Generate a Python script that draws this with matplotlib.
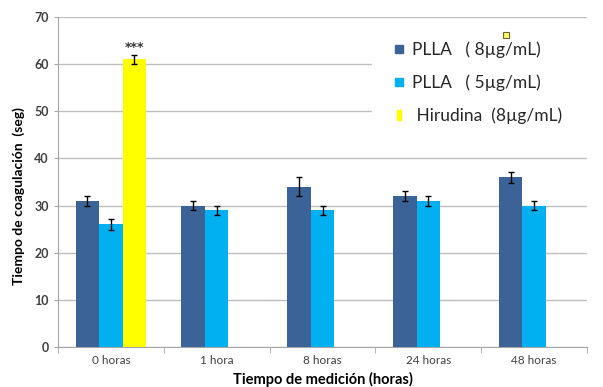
import matplotlib.pyplot as plt
import numpy as np
from matplotlib.lines import Line2D
from matplotlib.patches import Rectangle

plt.rcParams['font.family'] = ['Lato', 'DejaVu Sans']

# coagulation times (seg) per measurement time
categories = ['0 horas', '1 hora', '8 horas', '24 horas', '48 horas']
plla_8 = [31, 30, 34, 32, 36]
plla_8_err = [1, 1, 2, 1, 1.2]
plla_5 = [26, 29, 29, 31, 30]
plla_5_err = [1.2, 1, 1, 1, 1]
hirudina = [61, 0, 0, 0, 0]
hirudina_err = [1, 0, 0, 0, 0]
series_names = ['PLLA   ( 8\u00b5g/mL)', 'PLLA   ( 5\u00b5g/mL)', ' Hirudina  (8\u00b5g/mL)']
colors = ['#3B6397', '#00B0F0', '#FFFF00']

fig = plt.figure(figsize=(6.03, 3.87), dpi=100)
ax = fig.add_axes([0.0962, 0.1034, 0.8773, 0.8527])

x = np.arange(len(categories))
w = 0.222
ekw = dict(ecolor='black', elinewidth=1, capsize=2.5, capthick=1)
ax.bar(x - w, plla_8, w, color=colors[0], yerr=plla_8_err, error_kw=ekw, zorder=3)
ax.bar(x, plla_5, w, color=colors[1], yerr=plla_5_err, error_kw=ekw, zorder=3)
# hirudina only measured at 0 horas
ax.bar(x[:1] + w, hirudina[:1], w, color=colors[2], yerr=hirudina_err[:1], error_kw=ekw, zorder=3)
ax.text(x[0] + w, hirudina[0] + hirudina_err[0] + 0.2, '***', ha='center', va='bottom',
        fontsize=9, fontweight='bold', color='#333333', family='DejaVu Sans')

ax.set_xlim(-0.5, len(categories) - 0.5)
ax.set_ylim(0, 70)
ax.set_yticks(np.arange(0, 71, 10))
ax.set_xticks(x)
ax.set_xticklabels(categories)
ax.set_xticks(np.arange(-0.5, len(categories)), minor=True)
ax.tick_params(axis='x', which='major', length=0, labelsize=8.5, colors='#404040', pad=6)
ax.tick_params(axis='x', which='minor', length=4, color='#A6A6A6')
ax.tick_params(axis='y', length=3, color='#A6A6A6', labelsize=9, labelcolor='#404040')
for lbl in ax.get_yticklabels():
    lbl.set_fontweight('bold')

ax.yaxis.grid(True, color='#BFBFBF', linewidth=1, zorder=0)
ax.set_axisbelow(True)
for s in ['top', 'right']:
    ax.spines[s].set_visible(False)
for s in ['left', 'bottom']:
    ax.spines[s].set_color('#A6A6A6')

ax.set_ylabel('Tiempo de coagulaci\u00f3n  (seg)', fontsize=10, fontweight='bold')
ax.yaxis.set_label_coords(-0.062, 0.457)
ax.set_xlabel('Tiempo de medici\u00f3n (horas)', fontsize=10.5, fontweight='bold', labelpad=4)

# white legend area over the gridlines
ax.add_patch(Rectangle((0.594, 0.612), 0.406, 0.364, transform=ax.transAxes,
                       facecolor='white', edgecolor='none', zorder=1))

yellow_bar = [(-0.25, -0.5), (0.25, -0.5), (0.25, 0.5), (-0.25, 0.5), (-0.25, -0.5)]
handles = [
    Line2D([], [], linestyle='none', marker='s', markersize=5.5, color=colors[0]),
    Line2D([], [], linestyle='none', marker='s', markersize=5.5, color=colors[1]),
    Line2D([], [], linestyle='none', marker=yellow_bar, markersize=6.5, color=colors[2]),
]
leg = ax.legend(handles, series_names, loc='upper left', bbox_to_anchor=(0.635, 0.927),
                frameon=False, fontsize=12.5, handlelength=0.6, handletextpad=0.45,
                labelspacing=0.97, borderpad=0, borderaxespad=0)
for t in leg.get_texts():
    t.set_color('#262626')
leg.set_zorder(5)

# small yellow square beside the first legend entry
ax.plot([0.847], [0.945], transform=ax.transAxes, marker='s', markersize=5,
        markerfacecolor='#FFFF66', markeredgecolor='#666633', markeredgewidth=0.8,
        linestyle='none', clip_on=False, zorder=6)

fig.savefig('out.png', dpi=100)
